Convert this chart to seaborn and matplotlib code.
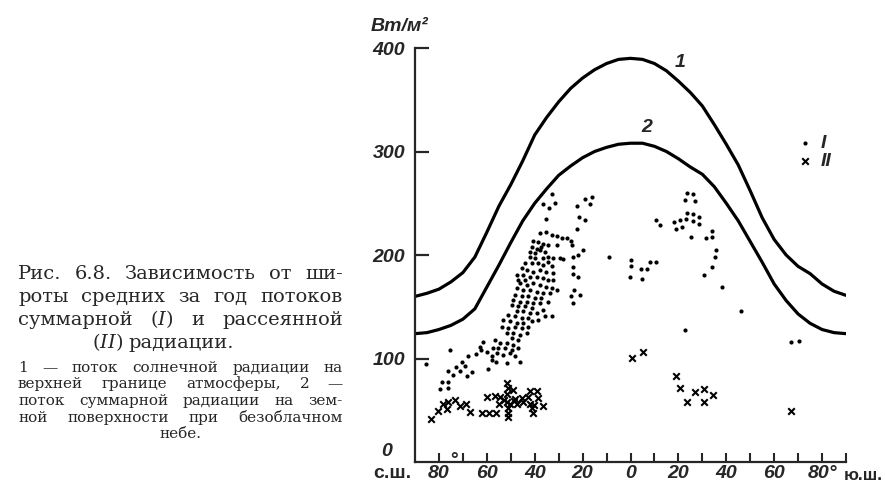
import matplotlib
matplotlib.use("Agg")
import matplotlib.pyplot as plt
import seaborn as sns
import pandas as pd

# latitude: north negative (left), south positive (right)
curve_lat = [-90, -85, -80, -75, -70, -65, -60, -55, -50, -45, -40, -35, -30, -25, -20, -15, -10, -5, 0,
             5, 10, 15, 20, 25, 30, 35, 40, 45, 50, 55, 60, 65, 70, 75, 80, 85, 90]
# 1 - top of the atmosphere, W/m2
curve1_flux = [160, 163, 167, 174, 183, 198, 222, 247, 268, 291, 316, 333, 348, 361, 371, 379, 385, 389, 390,
               389, 385, 378, 368, 357, 344, 326, 307, 287, 262, 236, 215, 200, 189, 182, 172, 165, 161]
# 2 - surface, clear sky
curve2_flux = [124, 125, 128, 132, 138, 148, 169, 190, 212, 233, 250, 264, 277, 286, 294, 300, 304, 307, 308,
               308, 305, 300, 293, 285, 278, 266, 250, 233, 213, 193, 172, 156, 143, 134, 128, 125, 124]

# I - total radiation (dots)
dots_lat = [-32.9, -36.5, -31.5, -34.0, -35.4,
            -37.8, -35.1, -32.9, -30.8, -28.8, -40.6, -38.5, -36.5, -41.3, -39.2, -37.2, -34.3, -30.8, -42.0, -39.9, -37.8, -35.8,
            -42.0, -39.9, -36.5, -34.3, -32.2, -29.5, -28.1, -44.0, -41.3, -38.5, -36.5, -34.3, -32.9, -45.5, -43.4, -40.6, -37.8, -35.1, -32.2,
            -47.6, -44.8, -42.0, -39.2, -36.5, -34.3, -32.2, -46.9, -44.0,
            -46.2, -43.4, -40.6, -37.8, -35.1, -32.9, -30.8, -47.6, -44.8, -42.0, -39.2, -36.5, -33.6, -48.3, -45.5, -42.7, -39.9, -37.2,
            -49.0, -46.2, -43.4, -40.6, -37.8, -34.3, -49.6, -46.9, -44.0, -41.3, -36.5, -47.6, -44.8, -42.0, -39.2, -35.8, -32.9,
            -51.0, -48.3, -45.5, -42.7, -53.1, -50.3, -47.6, -44.8, -41.3, -38.5, -53.8, -51.0, -48.3, -45.5, -42.7, -51.7, -49.0, -46.2, -43.4,
            -49.6, -46.9, -56.6, -54.6, -51.7, -49.0, -57.3, -55.3, -52.4, -49.6, -46.9, -55.9, -53.1, -50.3, -48.3, -58.0, -51.7, -46.2, -56.0, -58.0, -59.4,
            -75.4, -85.4, -70.5, -72.7, -69.1, -76.1, -74.1, -71.2, -68.4, -66.4, -78.9, -76.1, -79.6, -76.1, -67.8, -64.6, -62.3, -61.6, -62.9, -60.1,
            -22.2, -19.0, -15.9, -17.0, -21.5, -19.0, -22.2, -25.0, -24.5, -20.0, -21.8, -24.1, -24.1, -24.1, -21.8, -23.6, -21.1, -25.0, -24.1, -26.7,
            -8.9, 0.2, 0.0, -0.2, 4.3, 6.7, 8.1, 10.6, 4.9,
            23.5, 26.0, 22.8, 27.0, 23.5, 26.0, 28.7, 23.2, 20.6, 18.1, 26.0, 28.7, 21.3, 19.0, 10.6, 12.4, 25.3, 31.4, 33.9, 33.9,
            35.7, 35.3, 34.2, 30.9, 38.4, 46.0, 22.8, 67.0, 70.4]
dots_flux = [259, 249, 250, 245, 235,
             221, 222, 219, 218, 216, 214, 213, 211, 208, 206, 208, 210, 210, 203, 202, 205, 203,
             198.5, 197, 197, 198.5, 197, 197, 196, 192, 192, 192, 190.5, 193.5, 189, 187, 185.5, 184, 185.5, 184, 182.5,
             181, 181, 179, 179, 177.5, 176, 176, 176, 176,
             173, 171, 173, 171, 169.5, 168, 166.5, 168, 166.5, 166.5, 164.5, 163, 163, 161.5, 160, 160, 158.5, 158.5,
             157, 155, 155, 153.5, 153.5, 155, 152, 150.5, 150.5, 149, 147, 145.5, 145.5, 144, 144, 141, 141,
             142.5, 141, 139, 139, 137.5, 136, 134.5, 134.5, 136, 137.5, 130, 129, 130.5, 129, 130, 124.5, 124.5, 123, 124.5,
             120, 118, 118, 115, 115, 113.5, 110, 110, 110, 108.5, 110, 105, 103.5, 105, 102, 102, 95.5, 97, 97, 98.5, 89.5,
             108.5, 94.5, 96.5, 91.5, 92.5, 87.5, 84.5, 87.5, 83.5, 86.5, 77.5, 77.5, 70.5, 71.5, 102.5, 104.5, 108.5, 115.5, 111.5, 106.5,
             247, 254, 256, 249, 237, 234, 225, 214, 210, 205, 200, 198, 188, 182, 179, 166, 161, 160, 154, 216,
             198, 195, 189, 179, 186, 186, 193, 193, 177,
             260, 259, 253, 252, 241, 240, 237, 235, 234, 232, 233, 230, 227, 225, 234, 229, 217, 216, 223, 217,
             205, 198, 188, 181, 169, 146, 128, 116, 117]

# II - diffuse radiation (crosses)
cross_lat = [-83.5, -80.2, -78.2, -76.8, -76.1, -73.4, -71.2, -68.7, -67.1, -62.2,
             -59.1, -56.2, -59.8, -56.6, -54.3, -51.7, -51.4, -51.0, -52.8, -54.8,
             -51.7, -50.3, -48.7, -47.3, -51.0, -51.3, -51.3, -48.3, -45.5, -44.8,
             -42.7, -42.0, -39.2, -38.5, -42.0, -40.3, -41.3, -40.6, -36.5, -48.9,
             0.7, 5.1, 19.2, 20.6, 26.9, 30.9, 34.3, 23.5, 30.5, 67.0]
cross_flux = [41.5, 49.5, 56.5, 51.5, 58, 59.5, 54.5, 56.5, 48.5, 47.5,
              47.5, 47.5, 62.5, 63.5, 62.5, 65.5, 76.5, 71.5, 59.5, 56.5,
              57.5, 56.5, 58.5, 56.5, 52.5, 47.5, 43.5, 60.5, 61.5, 57.5,
              62.5, 68.5, 68.5, 61.5, 56.5, 55.5, 52.5, 47.5, 54.5, 69.5,
              100.5, 106.5, 83.5, 71.5, 67.5, 70.5, 64.5, 57.5, 57.5, 49.5]

lat_ticks = list(range(-80, 91, 10))
lat_labels = ["80", "", "60", "", "40", "", "20", "", "0", "", "20", "", "40", "", "60", "", "80°", ""]
flux_ticks = [100, 200, 300, 400]
flux_labels = ["100", "200", "300", "400"]

W, H = 885, 492

sns.set_style("ticks")
plt.rcParams['font.family'] = ['Liberation Sans', 'DejaVu Sans']
plt.rcParams['mathtext.fontset'] = 'custom'
plt.rcParams['mathtext.it'] = 'DejaVu Serif:italic'
plt.rcParams['mathtext.rm'] = 'DejaVu Serif'

fig = plt.figure(figsize=(W / 100, H / 100), dpi=100)
ax = fig.add_axes([415 / W, 30 / H, 431 / W, 414 / H])

curves = pd.DataFrame({'lat': curve_lat, 'c1': curve1_flux, 'c2': curve2_flux})
sns.lineplot(data=curves, x='lat', y='c1', color='black', linewidth=2.3, ax=ax)
sns.lineplot(data=curves, x='lat', y='c2', color='black', linewidth=2.3, ax=ax)
sns.scatterplot(x=dots_lat, y=dots_flux, marker='o', s=9, color='black', linewidth=0, label='I', ax=ax)
sns.scatterplot(x=cross_lat, y=cross_flux, marker='x', s=22, color='black', linewidth=1.5, label='II', ax=ax)

ax.set_xlim(-90, 90)
ax.set_ylim(0, 400)
ax.set_xlabel('')
ax.set_ylabel('')
sns.despine(ax=ax)
for side in ['left', 'bottom']:
    ax.spines[side].set_linewidth(1.6)

ax.set_xticks(lat_ticks)
ax.set_xticklabels(lat_labels)
ax.set_yticks(flux_ticks)
ax.set_yticklabels(flux_labels)
ax.tick_params(axis='x', direction='in', length=6.5, width=1.5, pad=2)
ax.tick_params(axis='y', direction='in', length=10, width=1.6, pad=7)
for lbl in ax.get_xticklabels() + ax.get_yticklabels():
    lbl.set_fontsize(14)
    lbl.set_fontweight('bold')
    lbl.set_fontstyle('italic')

lab = dict(fontsize=14, fontweight='bold', fontstyle='italic')
ax.annotate('0', xy=(0, 0), xycoords='axes fraction', xytext=(-23, 10), textcoords='offset pixels',
            ha='right', va='center', **lab)
ax.annotate('°', xy=(-80, 0), xycoords=('data', 'axes fraction'), xytext=(14, 10), textcoords='offset pixels',
            ha='center', va='top', **lab)
fig.text(392 / W, 1 - 474 / H, 'с.ш.', ha='center', va='center', fontsize=14, fontweight='bold')
fig.text(863 / W, 1 - 475 / H, 'ю.ш.', ha='center', va='center', fontsize=12.5, fontweight='bold')
fig.text(400 / W, 1 - 31 / H, 'Вт/м²', ha='center', va='baseline', **lab)

# curve numbers
ax.text(20.7, 386, '1', ha='center', va='center', **lab)
ax.text(6.9, 323, '2', ha='center', va='center', **lab)

ax.legend(loc='upper left', bbox_to_anchor=(0.856, 0.825), frameon=False, handlelength=0.8,
          handletextpad=0.4, labelspacing=0.05, borderpad=0.2,
          prop={'size': 14, 'style': 'italic', 'weight': 'bold'})

# caption on the left
renderer = fig.canvas.get_renderer()


def caption_line(words, x_left, x_right, y_base, size, centered=False):
    items = [fig.text(0, 1 - y_base / H, w, fontsize=size, family='DejaVu Serif', va='baseline')
             for w in words]
    widths = [t.get_window_extent(renderer).width for t in items]
    if centered or len(items) == 1:
        gap = size * 0.4
        x = (x_left + x_right) / 2 - (sum(widths) + gap * (len(items) - 1)) / 2
    else:
        gap = (x_right - x_left - sum(widths)) / (len(items) - 1)
        x = x_left
    for t, w in zip(items, widths):
        t.set_x(x / W)
        x += w + gap


caption_line(["Рис.", "6.8.", "Зависимость", "от", "ши-"], 18, 343, 279, 14)
caption_line(["роты", "средних", "за", "год", "потоков"], 18, 343, 302, 14)
caption_line(["суммарной", "($\\it{I}$)", "и", "рассеянной"], 18, 343, 325, 14)
caption_line(["($\\it{II}$)", "радиации."], 88, 238, 348, 14, centered=True)

caption_line(["$\\it{1}$", "—", "поток", "солнечной", "радиации", "на"], 18, 343, 372, 11)
caption_line(["верхней", "границе", "атмосферы,", "$\\it{2}$", "—"], 18, 343, 388, 11)
caption_line(["поток", "суммарной", "радиации", "на", "зем-"], 18, 343, 405, 11)
caption_line(["ной", "поверхности", "при", "безоблачном"], 18, 343, 422, 11)
caption_line(["небе."], 160, 200, 438, 11, centered=True)

fig.savefig('out.png', dpi=100)
